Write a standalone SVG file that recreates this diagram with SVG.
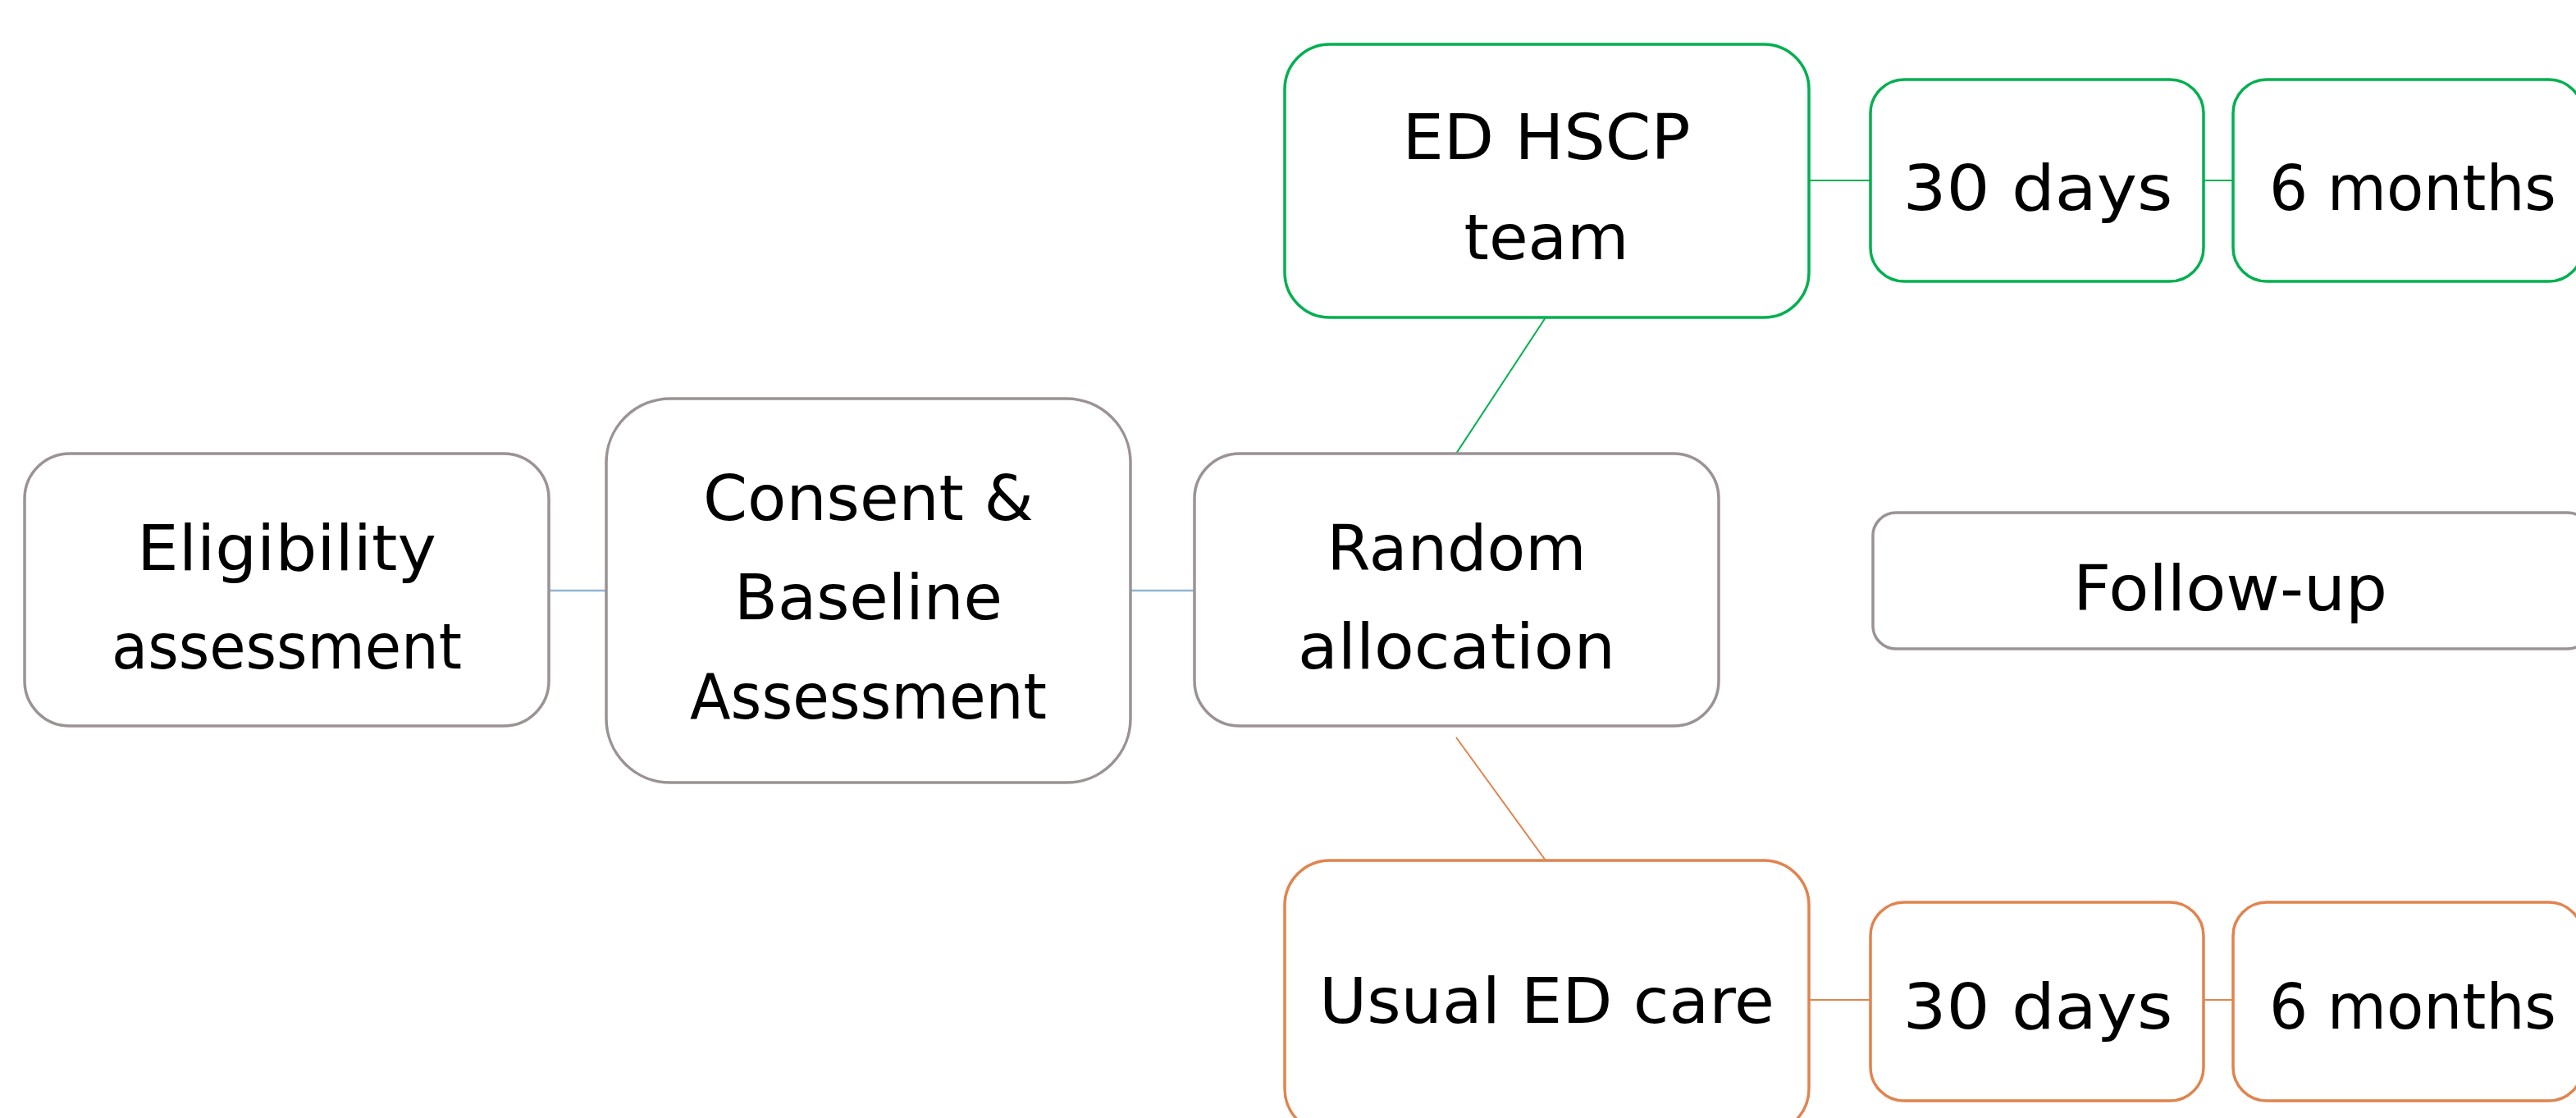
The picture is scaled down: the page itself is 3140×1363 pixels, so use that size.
<svg xmlns="http://www.w3.org/2000/svg" width="3140" height="1363" viewBox="0 0 3140 1363">
  <style>
    .box { fill: #ffffff; stroke-width: 3.5; }
    .grey { stroke: #9b9393; }
    .green { stroke: #00b050; }
    .orange { stroke: #e0844e; }
    .lbl { font-family: "DejaVu Sans", "Liberation Sans", sans-serif; font-size: 76px; fill: #000000; text-anchor: middle; }
    .link { fill: none; }
    .link-blue { stroke: #93b6d3; stroke-width: 2.5; }
    .link-green { stroke: #00b050; stroke-width: 2; }
    .link-orange { stroke: #e0844e; stroke-width: 2; }
  </style>
  <rect width="3140" height="1363" fill="#ffffff"/>

  <!-- connectors -->
  <g id="connectors" class="link">
    <line class="link-blue" x1="669" y1="720" x2="739" y2="720"/>
    <line class="link-blue" x1="1378" y1="720" x2="1456" y2="720"/>
    <line class="link-green" x1="1884" y1="387" x2="1775" y2="553"/>
    <line class="link-green" x1="2205" y1="220" x2="2280" y2="220"/>
    <line class="link-green" x1="2686" y1="220" x2="2722" y2="220"/>
    <line class="link-orange" x1="1775" y1="899" x2="1884" y2="1049"/>
    <line class="link-orange" x1="2205" y1="1219" x2="2280" y2="1219"/>
    <line class="link-orange" x1="2686" y1="1219" x2="2722" y2="1219"/>
  </g>

  <g id="eligibility">
    <rect class="box grey" x="30" y="553" width="639" height="332" rx="55" ry="55"/>
    <text class="lbl" x="349.5" y="695" textLength="365" lengthAdjust="spacingAndGlyphs">Eligibility</text>
    <text class="lbl" x="349.5" y="815" textLength="427" lengthAdjust="spacingAndGlyphs">assessment</text>
  </g>

  <g id="consent">
    <rect class="box grey" x="739" y="486" width="639" height="468" rx="78" ry="78"/>
    <text class="lbl" x="1058.5" y="634" textLength="403" lengthAdjust="spacingAndGlyphs">Consent &amp;</text>
    <text class="lbl" x="1058.5" y="755" textLength="327" lengthAdjust="spacingAndGlyphs">Baseline</text>
    <text class="lbl" x="1058.5" y="876" textLength="435" lengthAdjust="spacingAndGlyphs">Assessment</text>
  </g>

  <g id="random">
    <rect class="box grey" x="1456" y="553" width="639" height="332" rx="55" ry="55"/>
    <text class="lbl" x="1775.5" y="695" textLength="316" lengthAdjust="spacingAndGlyphs">Random</text>
    <text class="lbl" x="1775.5" y="815" textLength="387" lengthAdjust="spacingAndGlyphs">allocation</text>
  </g>

  <g id="ed-hscp">
    <rect class="box green" x="1566" y="54" width="639" height="333" rx="55" ry="55"/>
    <text class="lbl" x="1885" y="194" textLength="351" lengthAdjust="spacingAndGlyphs">ED HSCP</text>
    <text class="lbl" x="1885" y="316" textLength="201" lengthAdjust="spacingAndGlyphs">team</text>
  </g>

  <g id="hscp-30days">
    <rect class="box green" x="2280" y="97" width="406" height="246" rx="41" ry="41"/>
    <text class="lbl" x="2484" y="256" textLength="329" lengthAdjust="spacingAndGlyphs">30 days</text>
  </g>

  <g id="hscp-6months">
    <rect class="box green" x="2722" y="97" width="426" height="246" rx="41" ry="41"/>
    <text class="lbl" x="2941" y="256" textLength="350" lengthAdjust="spacingAndGlyphs">6 months</text>
  </g>

  <g id="follow-up">
    <rect class="box grey" x="2283" y="625" width="875" height="166" rx="28" ry="28"/>
    <text class="lbl" x="2718.5" y="744" textLength="383" lengthAdjust="spacingAndGlyphs">Follow-up</text>
  </g>

  <g id="usual-care">
    <rect class="box orange" x="1566" y="1049" width="639" height="333" rx="55" ry="55"/>
    <text class="lbl" x="1885.5" y="1247" textLength="555" lengthAdjust="spacingAndGlyphs">Usual ED care</text>
  </g>

  <g id="usual-30days">
    <rect class="box orange" x="2280" y="1100" width="406" height="242" rx="41" ry="41"/>
    <text class="lbl" x="2484" y="1254" textLength="329" lengthAdjust="spacingAndGlyphs">30 days</text>
  </g>

  <g id="usual-6months">
    <rect class="box orange" x="2722" y="1100" width="426" height="242" rx="41" ry="41"/>
    <text class="lbl" x="2941" y="1254" textLength="350" lengthAdjust="spacingAndGlyphs">6 months</text>
  </g>
</svg>
